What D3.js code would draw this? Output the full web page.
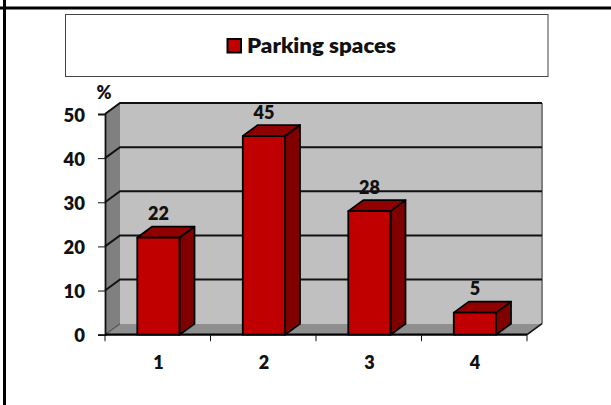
<!DOCTYPE html>
<html>
<head>
<meta charset="utf-8">
<script src="https://cdn.jsdelivr.net/npm/d3@7"></script>
<style>
  html, body { margin: 0; padding: 0; background: #fff; }
  svg { display: block; }
  text { font-family: Lato, "Open Sans", sans-serif; font-weight: 800; fill: #111; }
</style>
</head>
<body>
<div id="chart"></div>
<script>
// DATA
const categories = ["1", "2", "3", "4"];
const parkingSpaces = [22, 45, 28, 5];
const yTicks = [0, 10, 20, 30, 40, 50];
const seriesName = "Parking spaces";
const yUnit = "%";

// CANVAS
const WIDTH = 611, HEIGHT = 405;
const DEPTH_X = 15, DEPTH_Y = 11;

const svg = d3
  .select("#chart")
  .append("svg")
  .attr("width", WIDTH)
  .attr("height", HEIGHT);

// SCALE
const x = d3.scaleBand().domain(categories).range([105, 527]).paddingInner(0.6).paddingOuter(0.3).align(0.51);
const y = d3.scaleLinear().domain([0, 50]).range([334.7, 114]);
const line = d3.line();

// PAGE FRAME
svg.append("line").attr("x1", 0).attr("x2", WIDTH).attr("y1", 8).attr("y2", 8)
  .attr("stroke", "#000").attr("stroke-width", 3);
svg.append("line").attr("x1", 4.5).attr("x2", 4.5).attr("y1", 0).attr("y2", HEIGHT)
  .attr("stroke", "#000").attr("stroke-width", 3);

// LEGEND
svg.append("rect").attr("x", 65.5).attr("y", 14.5).attr("width", 482.5).attr("height", 62)
  .attr("fill", "#fff").attr("stroke", "#444").attr("stroke-width", 1);
svg.append("rect").attr("x", 227.5).attr("y", 39).attr("width", 13.5).attr("height", 13.5)
  .attr("fill", "#c00000").attr("stroke", "#000").attr("stroke-width", 2);
svg.append("text").attr("x", 247).attr("y", 53).attr("font-size", "21px")
  .attr("textLength", 149).attr("lengthAdjust", "spacingAndGlyphs").text(seriesName);

// WALLS AND FLOOR
const x0 = x.range()[0], x1 = x.range()[1];
const y0 = y(0), yTop = y(50);
svg.append("path")
  .attr("d", line([[x0 + DEPTH_X, yTop - DEPTH_Y], [x1 + DEPTH_X, yTop - DEPTH_Y], [x1 + DEPTH_X, y0 - DEPTH_Y], [x0 + DEPTH_X, y0 - DEPTH_Y]]) + "Z")
  .attr("fill", "#c0c0c0");
svg.append("path")
  .attr("d", line([[x0, yTop], [x0 + DEPTH_X, yTop - DEPTH_Y], [x0 + DEPTH_X, y0 - DEPTH_Y], [x0, y0]]) + "Z")
  .attr("fill", "#808080");
svg.append("path")
  .attr("d", line([[x0, y0], [x0 + DEPTH_X, y0 - DEPTH_Y], [x1 + DEPTH_X, y0 - DEPTH_Y], [x1, y0]]) + "Z")
  .attr("fill", "#8f8f8f");
svg.append("line").attr("x1", x1 + DEPTH_X).attr("x2", x1 + DEPTH_X).attr("y1", yTop - DEPTH_Y).attr("y2", y0 - DEPTH_Y)
  .attr("stroke", "#808080").attr("stroke-width", 2);

// GRIDLINES
svg.selectAll("path.grid")
  .data(yTicks.filter((d) => d > 0))
  .enter()
  .append("path")
  .attr("class", "grid")
  .attr("d", (d) => line([[x0, y(d)], [x0 + DEPTH_X, y(d) - DEPTH_Y], [x1 + DEPTH_X, y(d) - DEPTH_Y]]))
  .attr("fill", "none")
  .attr("stroke", "#111")
  .attr("stroke-width", 2);

// AXES
svg.append("path")
  .attr("d", line([[x1, y0], [x1 + DEPTH_X, y0 - DEPTH_Y]]))
  .attr("stroke", "#111").attr("stroke-width", 1.6);
svg.append("path")
  .attr("d", line([[x0, y0], [x0 + DEPTH_X, y0 - DEPTH_Y]]))
  .attr("stroke", "#555").attr("stroke-width", 1.2);

const yAxis = svg.append("g")
  .attr("transform", `translate(${x0}, 0)`)
  .call(d3.axisLeft(y).tickValues(yTicks).tickSize(7).tickPadding(13));
yAxis.select(".domain").attr("stroke", "#111").attr("stroke-width", 1.8);
yAxis.selectAll(".tick line").attr("stroke", "#111").attr("stroke-width", 1);
yAxis.selectAll(".tick text").attr("font-size", "18.5px").attr("font-family", "Lato").attr("fill", "#111").attr("dy", "0.38em");

const xAxis = svg.append("g")
  .attr("transform", `translate(0, ${y0})`)
  .call(d3.axisBottom(x).tickSize(0).tickPadding(22));
xAxis.select(".domain")
  .attr("d", `M${x0},0H${x1}`)
  .attr("stroke", "#000")
  .attr("stroke-width", 2.2);
xAxis.selectAll(".tick text").attr("font-size", "18px").attr("font-family", "Lato").attr("fill", "#111");

svg.selectAll("line.xtick")
  .data(d3.range(categories.length + 1))
  .enter()
  .append("line")
  .attr("class", "xtick")
  .attr("x1", (i) => x0 + (i * (x1 - x0)) / categories.length)
  .attr("x2", (i) => x0 + (i * (x1 - x0)) / categories.length)
  .attr("y1", y0)
  .attr("y2", y0 + 6.5)
  .attr("stroke", "#111")
  .attr("stroke-width", 1);

svg.append("text").attr("x", 96.5).attr("y", 98.5).attr("font-size", "18px").text(yUnit);

// BARS
const bars = svg.selectAll("g.bar")
  .data(categories.map((c, i) => ({ category: c, value: parkingSpaces[i] })))
  .enter()
  .append("g")
  .attr("class", "bar")
  .attr("stroke", "#000")
  .attr("stroke-width", 1.8)
  .attr("stroke-linejoin", "round");

bars.append("path")
  .attr("d", (d) => {
    const r = x(d.category) + x.bandwidth();
    return line([[r, y(d.value)], [r + DEPTH_X, y(d.value) - DEPTH_Y], [r + DEPTH_X, y0 - DEPTH_Y], [r, y0]]) + "Z";
  })
  .attr("fill", "#800000");
bars.append("path")
  .attr("d", (d) => {
    const l = x(d.category), r = l + x.bandwidth();
    return line([[l, y(d.value)], [l + DEPTH_X, y(d.value) - DEPTH_Y], [r + DEPTH_X, y(d.value) - DEPTH_Y], [r, y(d.value)]]) + "Z";
  })
  .attr("fill", "#900000");
bars.append("rect")
  .attr("x", (d) => x(d.category))
  .attr("y", (d) => y(d.value))
  .attr("width", x.bandwidth())
  .attr("height", (d) => y0 - y(d.value))
  .attr("fill", "#c00000");

// BAR LABELS
svg.selectAll("text.value")
  .data(parkingSpaces)
  .enter()
  .append("text")
  .attr("class", "value")
  .attr("x", (d, i) => x(categories[i]) + x.bandwidth() / 2)
  .attr("y", (d) => y(d) - 17.5)
  .attr("text-anchor", "middle")
  .attr("font-size", "18px")
  .text((d) => d);
</script>
</body>
</html>
